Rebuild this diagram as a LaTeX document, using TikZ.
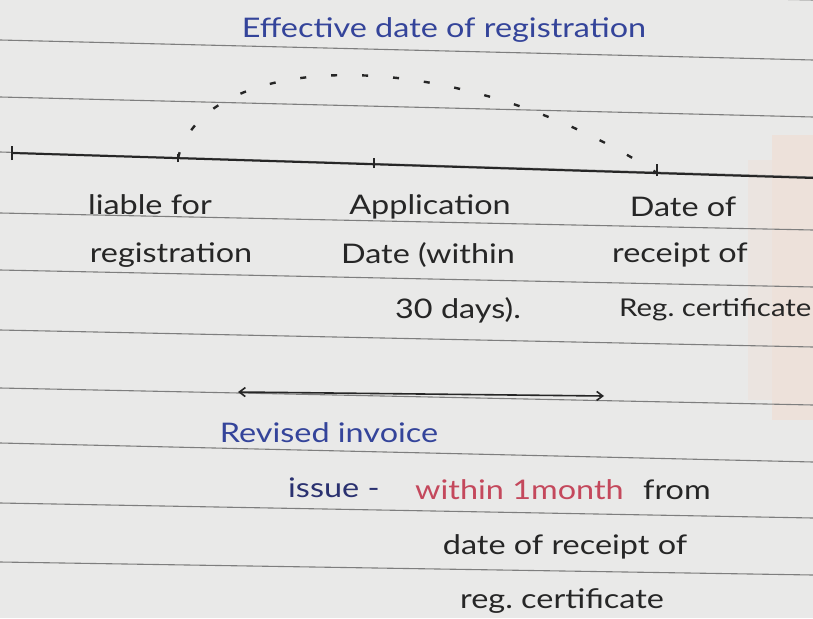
\documentclass[tikz,border=0pt]{standalone}
\usepackage{fontspec}
\setmainfont[FakeStretch=1.2]{Lato}
\usetikzlibrary{arrows.meta}
\definecolor{paper}{HTML}{E9E9E8}
\definecolor{ruling}{HTML}{7E7E7E}
\definecolor{ink}{HTML}{262626}
\definecolor{blueink}{HTML}{34449A}
\definecolor{navyink}{HTML}{2A3170}
\definecolor{redink}{HTML}{C4485C}
\definecolor{peach}{HTML}{F1DDD2}
\tikzset{
  rule/.style={draw=ruling, line width=1.1pt},
  axis/.style={draw=ink, line width=2pt},
  tick/.style={draw=ink, line width=2pt},
  arcline/.style={draw=ink, line width=2.4pt, dash pattern=on 6pt off 25pt},
  span/.style={draw=ink, line width=1.6pt, {Straight Barb[length=6pt,width=9pt]}-{Straight Barb[length=6pt,width=9pt]}},
  hand/.style={inner sep=0pt, text=ink, font=\fontsize{27}{30}\selectfont},
}
\frenchspacing
\begin{document}
\begin{tikzpicture}[x=1pt,y=-1pt]
\useasboundingbox (0,0) rectangle (813,618);
% sheet and its ruling
\fill[paper] (0,0) rectangle (813,618);
\fill[peach, opacity=0.6] (772,135) rectangle (813,420);
\fill[peach, opacity=0.35] (748,160) rectangle (772,400);
\foreach \yl/\yr in {-18/0, 40/60, 97/117, 152/177, 213/230, 270/287, 330/347, 388/405, 443/462, 503/518, 562/575}
  \draw[rule] (0,\yl) -- (813,\yr);

% timeline points
\coordinate (t0) at (12,153);
\coordinate (t1) at (178,158);
\coordinate (t2) at (374,164);
\coordinate (t3) at (657,173);
\coordinate (tend) at (813,178);
\draw[axis] (t0) -- (tend);
\draw[tick] ([yshift=-7pt]t0) -- ([yshift=7pt]t0);
\draw[tick] ([yshift=-4pt]t1) -- ([yshift=4pt]t1);
\draw[tick] ([yshift=-4pt]t2) -- ([yshift=6pt]t2);
\draw[tick] ([yshift=-3pt]t3) -- ([yshift=9pt]t3);

% dashed arc spanning the effective period
\draw[arcline] (t1) .. controls (205,50) and (450,40) .. (t3);

\node[hand, text=blueink] (title) at (444,30) {Effective date of registration};

% labels under the timeline
\node[hand] (liable1) at (150,205) {liable for};
\node[hand] (liable2) at (171,255) {registration};
\node[hand] (app1) at (430,207) {Application};
\node[hand] (app2) at (428,255) {Date (within};
\node[hand] (app3) at (458,310) {30 days).};
\node[hand] (rec1) at (683,207) {Date of};
\node[hand] (rec2) at (680,255) {receipt of};
\node[hand, anchor=west, font=\fontsize{24.5}{28}\selectfont] (rec3) at (619,310) {Reg. certificate};

% revised invoice span
\coordinate (s1) at (238,392);
\coordinate (s2) at (604,396);
\draw[span] (s1) -- (s2);

\node[hand, text=blueink] (revised) at (329,433) {Revised invoice};
\node[hand, text=navyink, anchor=west] (issue) at (288,488) {issue -};
\node[hand, text=redink, anchor=west] (within) at (415,490) {within 1month};
\node[hand, anchor=west] (from) at (643,490) {from};
\node[hand] (date) at (565,547) {date of receipt of};
\node[hand] (cert) at (562,601) {reg. certificate};
\end{tikzpicture}
\end{document}
